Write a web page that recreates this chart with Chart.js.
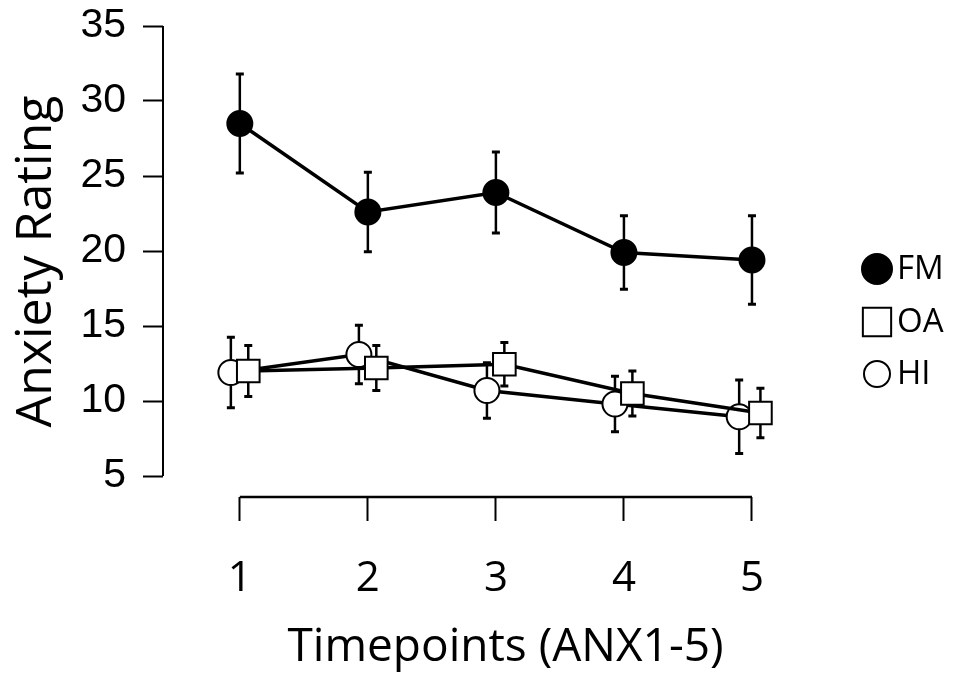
<!DOCTYPE html>
<html>
<head>
<meta charset="utf-8">
<script src="https://cdn.jsdelivr.net/npm/chart.js@4.4.1/dist/chart.umd.min.js"></script>
<style>
  html, body { margin: 0; padding: 0; background: #fff; }
  #wrap { width: 970px; height: 675px; position: relative; }
</style>
</head>
<body>
<div id="wrap"><canvas id="anx"></canvas></div>
<script>
// ========================================
// Anxiety rating per timepoint (mean +/- error)
// ========================================

const timepoints = [1, 2, 3, 4, 5];
const yTicks = [5, 10, 15, 20, 25, 30, 35];

// FM group
const fmX = [1, 2, 3, 4, 5];
const fmMean = [28.5, 22.6, 23.9, 19.9, 19.4];
const fmErr = [3.3, 2.65, 2.7, 2.45, 2.95];

// OA group (drawn slightly right of the tick)
const oaX = [1.066, 2.066, 3.066, 4.066, 5.066];
const oaMean = [12.0, 12.2, 12.45, 10.5, 9.2];
const oaErr = [1.7, 1.5, 1.45, 1.5, 1.65];

// HI group (drawn slightly left of the tick)
const hiX = [0.93, 1.93, 2.93, 3.93, 4.9];
const hiMean = [11.9, 13.1, 10.7, 9.8, 8.95];
const hiErr = [2.35, 1.95, 1.85, 1.85, 2.45];

const sans = "'Open Sans', 'Noto Sans', sans-serif";

function toPoints(xs, ys) {
    return xs.map((x, i) => ({ x: x, y: ys[i] }));
}

// error bars drawn behind the markers
const errorBars = {
    id: 'errorBars',
    beforeDatasetsDraw(chart) {
        const ctx = chart.ctx;
        const xs = chart.scales.x;
        const ys = chart.scales.y;
        ctx.save();
        ctx.strokeStyle = '#000';
        chart.data.datasets.forEach(ds => {
            ds.data.forEach((p, i) => {
                const px = xs.getPixelForValue(p.x);
                const top = ys.getPixelForValue(p.y + ds.errors[i]);
                const bot = ys.getPixelForValue(p.y - ds.errors[i]);
                ctx.lineWidth = 2.5;
                ctx.beginPath();
                ctx.moveTo(px, top);
                ctx.lineTo(px, bot);
                ctx.stroke();
                ctx.lineWidth = 3;
                ctx.beginPath();
                ctx.moveTo(px - 4, top);
                ctx.lineTo(px + 4, top);
                ctx.moveTo(px - 4, bot);
                ctx.lineTo(px + 4, bot);
                ctx.stroke();
            });
        });
        ctx.restore();
    }
};

// detached axis lines (y from 5 to 35, x from 1 to 5)
const axisLines = {
    id: 'axisLines',
    afterDraw(chart) {
        const ctx = chart.ctx;
        const xs = chart.scales.x;
        const ys = chart.scales.y;
        const area = chart.chartArea;
        ctx.save();
        ctx.strokeStyle = '#000';
        ctx.lineWidth = 2;
        ctx.beginPath();
        ctx.moveTo(area.left, ys.getPixelForValue(yTicks[0]));
        ctx.lineTo(area.left, ys.getPixelForValue(yTicks[yTicks.length - 1]));
        ctx.stroke();
        ctx.lineWidth = 2.5;
        ctx.beginPath();
        ctx.moveTo(xs.getPixelForValue(timepoints[0]), area.bottom);
        ctx.lineTo(xs.getPixelForValue(timepoints[timepoints.length - 1]), area.bottom);
        ctx.stroke();
        ctx.restore();
    }
};

// legend on the right side
const sideLegend = {
    id: 'sideLegend',
    afterDraw(chart) {
        const ctx = chart.ctx;
        const rows = [269, 322, 374];
        const sizes = [15, 20, 13];
        ctx.save();
        chart.data.datasets.forEach((ds, i) => {
            ctx.fillStyle = ds.pointBackgroundColor;
            ctx.strokeStyle = '#000';
            ctx.lineWidth = 2;
            Chart.helpers.drawPoint(ctx, {
                pointStyle: ds.pointStyle,
                radius: sizes[i],
                rotation: 0,
                borderWidth: 2
            }, 877, rows[i]);
            ctx.fillStyle = '#000';
            ctx.font = '33px ' + sans;
            ctx.textBaseline = 'middle';
            ctx.textAlign = 'left';
            ctx.fillText(ds.label, 897, rows[i] + 1);
        });
        ctx.restore();
    }
};

const baseSet = {
    borderColor: '#000',
    borderWidth: 3.5,
    pointBorderColor: '#000',
    pointBorderWidth: 2,
    tension: 0,
    fill: false
};

const ctx = document.getElementById('anx').getContext('2d');
const chart = new Chart(ctx, {
    type: 'line',
    data: {
        datasets: [
            Object.assign({}, baseSet, {
                label: 'FM',
                data: toPoints(fmX, fmMean),
                errors: fmErr,
                pointStyle: 'circle',
                pointRadius: 12.5,
                pointBackgroundColor: '#000',
                backgroundColor: '#000'
            }),
            Object.assign({}, baseSet, {
                label: 'OA',
                data: toPoints(oaX, oaMean),
                errors: oaErr,
                pointStyle: 'rect',
                pointRadius: 16,
                pointBackgroundColor: '#fff',
                backgroundColor: '#fff'
            }),
            Object.assign({}, baseSet, {
                label: 'HI',
                data: toPoints(hiX, hiMean),
                errors: hiErr,
                pointStyle: 'circle',
                pointRadius: 12.5,
                pointBackgroundColor: '#fff',
                backgroundColor: '#fff'
            })
        ]
    },
    options: {
        responsive: true,
        maintainAspectRatio: false,
        animation: false,
        layout: { padding: { top: 26, left: 0, right: 122, bottom: 0 } },
        plugins: {
            legend: { display: false },
            tooltip: { enabled: false }
        },
        scales: {
            x: {
                type: 'linear',
                min: 0.4,
                max: 5.75,
                afterBuildTicks: s => { s.ticks = timepoints.map(v => ({ value: v })); },
                afterFit: s => { s.height = 178; s.paddingLeft = 0; s.paddingRight = 0; },
                border: { display: false },
                grid: {
                    drawOnChartArea: false,
                    drawTicks: true,
                    tickLength: 24,
                    tickWidth: 2,
                    tickColor: '#000'
                },
                ticks: {
                    color: '#000',
                    padding: 33,
                    maxRotation: 0,
                    font: { family: sans, size: 42 }
                },
                title: {
                    display: true,
                    text: 'Timepoints (ANX1-5)',
                    color: '#000',
                    padding: { top: 0, bottom: 0 },
                    font: { family: sans, size: 46 }
                }
            },
            y: {
                min: 3.6,
                max: 35,
                afterBuildTicks: s => { s.ticks = yTicks.map(v => ({ value: v })); },
                afterFit: s => { s.width = 163; s.paddingTop = 0; s.paddingBottom = 0; },
                border: { display: false },
                grid: {
                    drawOnChartArea: false,
                    drawTicks: true,
                    tickLength: 20,
                    tickWidth: 2,
                    tickColor: '#000'
                },
                ticks: {
                    color: '#000',
                    padding: 17,
                    font: { family: "'Liberation Sans', Arial, sans-serif", size: 41 }
                },
                title: {
                    display: true,
                    text: 'Anxiety Rating',
                    color: '#000',
                    padding: { top: 7, bottom: 0 },
                    font: { family: sans, size: 50 }
                }
            }
        }
    },
    plugins: [errorBars, axisLines, sideLegend]
});
</script>
</body>
</html>
